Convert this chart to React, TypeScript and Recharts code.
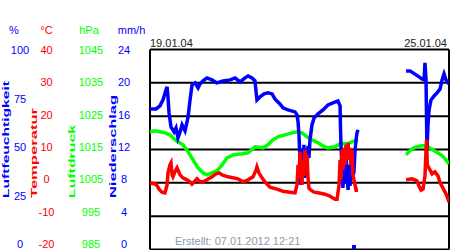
import React from "react";
import { ComposedChart, Line, Scatter, XAxis, YAxis, CartesianGrid, ReferenceLine } from "recharts";

const FONT = "'Liberation Sans', Arial, Helvetica, sans-serif";
const BLUE = "#0000ff";
const RED = "#ff0000";
const GREEN = "#00ff00";

// [hour since 19.01.04 00:00, value]; null = no data
const humidity: Array<[number, number | null]> = [
  [0, 70.3], [3.4, 70.3], [5.6, 71.8], [7.3, 74.8], [9.0, 79.8], [9.6, 81.3], [10.1, 76.3], [10.7, 68.3],
  [11.8, 61.3], [13.5, 58.8], [14.6, 60.8], [15.7, 55.8], [16.9, 58.8], [18.0, 62.3], [19.7, 59.3],
  [21.4, 66.3], [22.5, 74.8], [23.6, 82.3], [25.3, 83.3], [27.0, 80.8], [28.1, 82.8], [29.8, 84.3],
  [32.0, 85.8], [34.8, 84.8], [37.6, 83.3], [41.0, 84.3], [45.0, 84.8], [47.8, 85.8], [50.6, 83.8],
  [53.4, 85.8], [55.1, 86.8], [57.3, 85.8], [59.0, 84.3], [59.6, 78.8], [60.1, 74.8], [61.8, 76.3],
  [64.1, 77.8], [66.3, 78.3], [68.6, 77.8], [70.2, 75.3], [73.0, 72.8], [74.7, 70.8], [77.5, 69.8],
  [81.5, 68.8], [82.6, 67.3], [83.2, 63.8], [83.7, 57.3], [84.3, 44.8], [84.8, 32.3], [85.4, 49.8],
  [86.0, 38.8], [86.5, 52.3], [87.1, 35.8], [87.7, 49.8], [88.2, 40.8], [88.8, 51.8], [89.3, 45.8],
  [89.9, 54.8], [91.0, 62.3], [92.2, 65.8], [94.4, 67.8], [97.2, 69.8], [100.0, 72.3], [102.8, 73.3],
  [105.6, 74.3], [106.8, 71.8], [107.0, 62.3], [107.3, 52.3], [107.9, 39.8], [108.4, 30.8], [109.0, 44.8],
  [109.6, 33.8], [110.1, 49.8], [110.7, 35.8], [111.3, 29.8], [111.8, 42.3], [112.4, 31.8], [112.9, 45.8],
  [113.5, 34.8], [114.6, 38.8], [115.2, 49.8], [115.8, 54.8], [116.3, 58.3], [116.9, 59.8],
  [130, null],
  [143.9, 89.3], [146.1, 89.3], [147.8, 88.3], [149.5, 87.3], [151.2, 86.3], [152.8, 85.3], [154.0, 84.8],
  [154.5, 93.3], [155.1, 84.8], [155.6, 49.8], [156.2, 62.3], [156.8, 69.8], [157.9, 74.8], [159.6, 76.8],
  [161.3, 78.3], [163.0, 80.3], [164.1, 84.8], [165.2, 87.8], [166.3, 84.8], [168, 82.8],
];

const temperature: Array<[number, number | null]> = [
  [0, 0.0], [3.4, -0.4], [5.1, -1.9], [6.7, -2.8], [8.4, -3.0], [9.6, -0.6], [10.1, 3.0], [11.2, 5.4],
  [11.8, 6.0], [12.4, 2.4], [12.9, 1.8], [14.0, 3.3], [15.2, 4.5], [16.9, 2.4], [18.5, 1.5], [20.8, 0.9],
  [22.5, 0.3], [23.6, -0.4], [25.3, 0.6], [26.4, 1.2], [28.1, 0.3], [29.8, 0.3], [32.0, 0.9], [34.8, 1.8],
  [37.1, 2.7], [38.8, 3.0], [40.5, 2.4], [43.8, 1.8], [46.6, 1.5], [49.4, 1.2], [52.3, 0.3], [55.1, 0.9],
  [57.9, 1.8], [59.6, 3.9], [60.1, 4.8], [61.2, 3.0], [62.9, 1.5], [64.6, 0.3], [67.4, -1.3], [71.4, -1.9],
  [74.7, -2.5], [78.7, -2.8], [81.5, -3.0], [82.6, -0.6], [83.2, 5.4], [83.7, 1.5], [84.3, 9.3], [84.8, 4.5],
  [85.4, -0.6], [86.0, 6.9], [86.5, 2.1], [87.1, 9.9], [87.7, 3.3], [88.2, 8.4], [88.8, 1.5], [89.3, -1.6],
  [90.5, -2.2], [92.2, -2.8], [94.4, -3.0], [98.3, -3.4], [101.1, -4.0], [104.0, -4.9], [105.1, -4.9],
  [105.6, -3.0], [106.2, -0.9], [106.8, 6.9], [107.3, 0.9], [107.9, 9.9], [108.4, 3.9], [109.0, 10.5],
  [109.6, 5.4], [110.1, 11.4], [110.7, 6.9], [111.3, 12.0], [111.8, 7.5], [112.4, 10.5], [112.9, 5.4],
  [113.5, 9.9], [114.0, 2.4], [115.2, -0.6], [115.8, -2.2], [116.9, -2.2],
  [130, null],
  [143.9, 0.9], [147.3, 1.2], [150.0, 0.6], [151.2, -1.0], [152.3, -2.2], [153.4, -1.9], [154.5, 2.1],
  [155.1, 9.9], [155.4, 13.0], [155.8, 5.4], [157.3, 3.9], [158.5, 2.7], [160.1, 3.3], [161.8, 2.1],
  [163.0, 0.0], [164.6, -1.6], [165.8, -2.8], [166.9, -4.0], [168, -5.8],
];

const pressure: Array<[number, number | null]> = [
  [0, 1020.3], [2.8, 1020.6], [5.6, 1020.3], [8.4, 1020.0], [11.2, 1019.4], [13.5, 1018.2], [15.7, 1017.3],
  [18.5, 1016.4], [21.4, 1014.3], [24.2, 1011.9], [27.0, 1009.5], [29.8, 1008.0], [32.0, 1007.4],
  [34.8, 1008.0], [37.6, 1008.6], [40.5, 1010.4], [43.3, 1012.5], [46.6, 1013.4], [51.7, 1013.7],
  [55.1, 1014.0], [59.0, 1015.8], [63.5, 1015.5], [66.3, 1016.4], [69.1, 1017.9], [71.9, 1018.8],
  [75.9, 1019.4], [79.8, 1020.0], [82.6, 1020.3], [85.4, 1020.0], [88.2, 1018.8], [91.0, 1017.9],
  [94.4, 1017.0], [97.2, 1016.1], [100.0, 1015.5], [104.0, 1015.8], [106.8, 1016.7], [110.7, 1016.7],
  [113.5, 1017.3], [116.9, 1017.9],
  [130, null],
  [143.9, 1013.4], [145.5, 1014.3], [147.3, 1015.2], [149.5, 1015.8], [152.8, 1016.1], [155.6, 1016.1],
  [157.9, 1015.2], [160.7, 1014.3], [163.5, 1013.4], [165.8, 1012.2], [168, 1010.7],
];

const precipitation: Array<[number, number]> = [[114.6, 0.3]];

const humidityTicks = [0, 25, 50, 75, 100];
const temperatureTicks = [-20, -10, 0, 10, 20, 30, 40];
const pressureTicks = [985, 995, 1005, 1015, 1025, 1035, 1045];
const precipitationTicks = [0, 4, 8, 12, 16, 20, 24];

const startDate = "19.01.04";
const endDate = "25.01.04";
const createdLabel = "Erstellt: 07.01.2012 12:21";
const HOURS = 168;

const toRows = (s: Array<[number, number | null]>) => s.map(([t, v]) => ({ t, v }));

const labelY = (y: number) => 50 + (y - 49.5) * 0.97;

function makeTick(cx: number, color: string) {
  return (props: any) => (
    <text x={cx} y={labelY(props.y) + 4} textAnchor="middle" fill={color} fontSize={11} fontFamily={FONT}>
      {props.payload.value}
    </text>
  );
}

const RainDot = (props: any) => (
  <rect x={props.cx - 2} y={props.cy - 2} width={4} height={4} fill={BLUE} />
);

const rotLabel = (text: string, x: number, len: number, color: string) => (
  <text
    x={x}
    y={198}
    transform={`rotate(-90 ${x} 198)`}
    fill={color}
    fontSize={9.5}
    fontWeight="bold"
    fontFamily={FONT}
    textLength={len}
    lengthAdjust="spacingAndGlyphs"
  >
    {text}
  </text>
);

export default function App() {
  return (
    <div style={{ position: "absolute", left: 0, top: 0, width: 450, height: 250, background: "#fff" }}>
      <ComposedChart width={450} height={250} margin={{ top: 49.5, right: 1, bottom: 0.5, left: 0 }}>
        <XAxis type="number" dataKey="t" domain={[0, HOURS]} hide allowDataOverflow />
        <YAxis yAxisId="hum" type="number" domain={[0, 100]} ticks={humidityTicks} interval={0} width={37.5}
          axisLine={false} tickLine={false} tick={makeTick(20, BLUE)} allowDataOverflow />
        <YAxis yAxisId="temp" type="number" domain={[-20, 40]} ticks={temperatureTicks} interval={0} width={37.5}
          axisLine={false} tickLine={false} tick={makeTick(46.5, RED)} allowDataOverflow />
        <YAxis yAxisId="press" type="number" domain={[985, 1045]} ticks={pressureTicks} interval={0} width={37.5}
          axisLine={false} tickLine={false} tick={makeTick(91, GREEN)} allowDataOverflow />
        <YAxis yAxisId="rain" type="number" domain={[0, 24]} ticks={precipitationTicks} interval={0} width={37.5}
          axisLine={false} tickLine={false} tick={makeTick(124, BLUE)} allowDataOverflow />
        <CartesianGrid yAxisId="temp" vertical={false} stroke="#000" strokeWidth={2} />
        <ReferenceLine yAxisId="temp" x={0} stroke="#000" strokeWidth={2} />
        <ReferenceLine yAxisId="temp" x={HOURS} stroke="#000" strokeWidth={2} />
        <Line data={toRows(pressure)} dataKey="v" yAxisId="press" type="linear" stroke={GREEN} strokeWidth={3.5}
          dot={false} activeDot={false} connectNulls={false} isAnimationActive={false} />
        <Line data={toRows(humidity)} dataKey="v" yAxisId="hum" type="linear" stroke={BLUE} strokeWidth={3.5}
          dot={false} activeDot={false} connectNulls={false} isAnimationActive={false} />
        <Line data={toRows(temperature)} dataKey="v" yAxisId="temp" type="linear" stroke={RED} strokeWidth={3.5}
          dot={false} activeDot={false} connectNulls={false} isAnimationActive={false} />
        <Scatter data={toRows(precipitation)} dataKey="v" yAxisId="rain" shape={RainDot} isAnimationActive={false} />
        <g fontFamily={FONT}>
          <text x={14} y={34} textAnchor="middle" fontSize={11} fill={BLUE}>%</text>
          <text x={46.5} y={34} textAnchor="middle" fontSize={11} fill={RED}>°C</text>
          <text x={89} y={34} textAnchor="middle" fontSize={11} fill={GREEN}>hPa</text>
          <text x={131.5} y={34} textAnchor="middle" fontSize={11} fill={BLUE}>mm/h</text>
          {rotLabel("Luftfeuchtigkeit", 8.5, 117, BLUE)}
          {rotLabel("Temperatur", 37, 90, RED)}
          {rotLabel("Luftdruck", 75, 73, GREEN)}
          {rotLabel("Niederschlag", 115.5, 103, BLUE)}
          <text x={150} y={47} fontSize={11} fill="#222">{startDate}</text>
          <text x={447} y={47} textAnchor="end" fontSize={11} fill="#222">{endDate}</text>
          <text x={175} y={245} fontSize={11} fill="#8c9aab">{createdLabel}</text>
        </g>
      </ComposedChart>
    </div>
  );
}
